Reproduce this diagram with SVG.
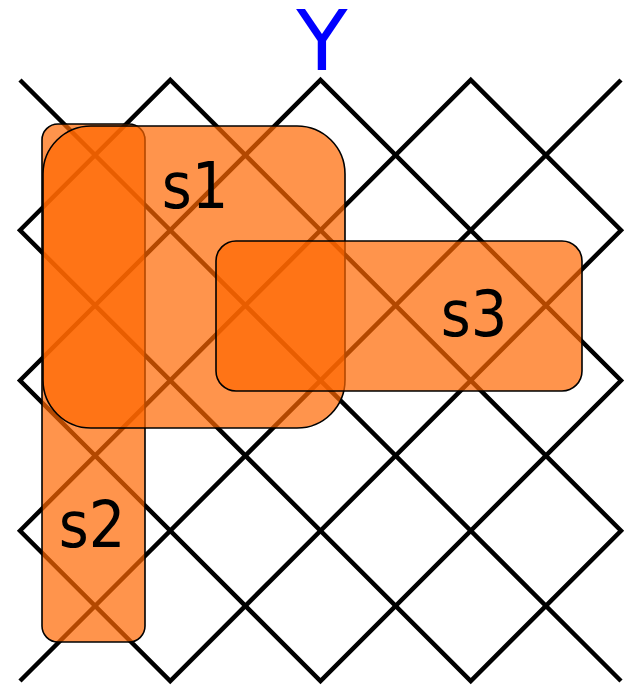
<svg xmlns="http://www.w3.org/2000/svg" width="633" height="687" viewBox="0 0 633 687">
  <style>
    .grid { fill: none; stroke: #000; stroke-width: 4.5; stroke-linejoin: miter; }
    .set rect { fill: #ff6600; fill-opacity: 0.7; stroke: #000; stroke-width: 1.6; }
    .label { font-family: "DejaVu Sans Condensed", "DejaVu Sans", sans-serif; font-stretch: condensed; font-size: 64px; fill: #000; text-anchor: middle; }
    .axis { font-family: "DejaVu Sans", "Liberation Sans", sans-serif; font-size: 84px; fill: #0000ff; text-anchor: middle; }
  </style>

  <!-- diagonal lattice: two corner diagonals plus three closed reflection loops -->
  <g id="grid" class="grid">
    <line x1="20" y1="80" x2="621" y2="681"/>
    <line x1="621" y1="80" x2="20" y2="681"/>
    <polygon points="20,230.25 170.25,80 621,530.75 470.75,681"/>
    <polygon points="20,380.5 320.5,80 621,380.5 320.5,681"/>
    <polygon points="20,530.75 470.75,80 621,230.25 170.25,681"/>
  </g>

  <text id="axis-y" class="axis" x="322" y="70">Y</text>

  <!-- translucent set regions, drawn bottom to top -->
  <g id="s2" class="set">
    <rect x="42" y="124" width="103" height="518" rx="16" ry="16"/>
    <text class="label" x="92" y="547">s2</text>
  </g>
  <g id="s1" class="set">
    <rect x="43" y="126" width="302" height="302" rx="48" ry="48"/>
    <text class="label" x="195" y="208">s1</text>
  </g>
  <g id="s3" class="set">
    <rect x="216" y="241" width="366" height="150" rx="20" ry="20"/>
    <text class="label" x="474" y="336">s3</text>
  </g>
</svg>
